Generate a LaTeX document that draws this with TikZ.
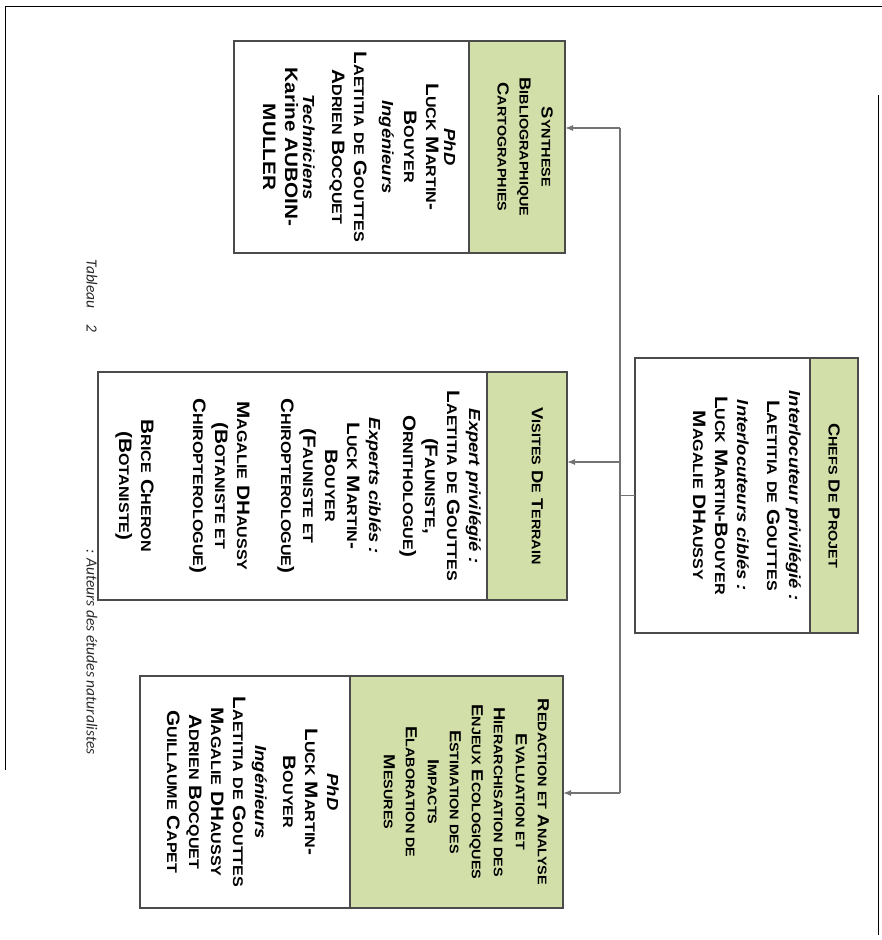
\documentclass[tikz,border=0pt]{standalone}
\usepackage{fontspec}
\setmainfont{Liberation Sans}[FakeStretch=1.15]
\newfontfamily\capfont{Carlito}
\usetikzlibrary{arrows.meta}

\definecolor{headgreen}{RGB}{210,223,168}
\definecolor{boxgray}{RGB}{75,75,75}
\definecolor{linegray}{RGB}{115,115,115}
\definecolor{capgray}{RGB}{40,40,40}

% small capitals, done by hand
\newcommand\smb[1]{{\fontsize{14}{22}\selectfont #1}}
\newcommand\smh[1]{{\fontsize{12.5}{22}\selectfont #1}}
\newcommand\lab[1]{{\itshape\fontsize{16}{22}\selectfont #1}}

\tikzset{
  bodybox/.style={draw=boxgray, fill=white, line width=1.3pt, rotate=-90, inner sep=0pt, outer sep=0pt},
  headbox/.style={bodybox, fill=headgreen},
  bodytext/.style={rotate=-90, anchor=north, align=center, inner sep=0pt, font=\bfseries\fontsize{18}{22}\selectfont},
  headtext/.style={bodytext, font=\bfseries\fontsize{16}{22}\selectfont},
  link/.style={draw=linegray, line width=1.3pt},
  arr/.style={link, -{Latex[length=8pt,width=6pt]}},
  pageframe/.style={draw=black, line width=0.8pt},
  captext/.style={rotate=-90, font=\capfont\itshape\fontsize{15.5}{18}\selectfont, text=capgray}
}

\begin{document}
\begin{tikzpicture}[x=1pt, y=1pt]
  \useasboundingbox (0,0) rectangle (882,-940);

  % page border
  \draw[pageframe] (5,-6) -- (882,-6);
  \draw[pageframe] (5,-6) -- (5,-770);
  \draw[pageframe] (878,-95) -- (878,-935);

  % Boxes
  \node[bodybox, minimum width=212pt, minimum height=235pt] (synB) at (351.5,-147) {};
  \node[headbox, minimum width=212pt, minimum height=96pt] (synH) at (517,-147) {};

  \node[bodybox, minimum width=228pt, minimum height=389pt] (visB) at (292.5,-486) {};
  \node[headbox, minimum width=228pt, minimum height=80pt] (visH) at (527,-486) {};

  \node[bodybox, minimum width=275pt, minimum height=175pt] (chefsB) at (722.5,-495.5) {};
  \node[headbox, minimum width=275pt, minimum height=48pt] (chefsH) at (834,-495.5) {};

  \node[bodybox, minimum width=232pt, minimum height=210pt] (redB) at (245,-792) {};
  \node[headbox, minimum width=232pt, minimum height=213pt] (redH) at (456.5,-792) {};

  % Headers
  \node[headtext] (synHT) at ([xshift=-12pt]synH.north)
    {S\smh{YNTHESE}\\B\smh{IBLIOGRAPHIQUE}\\C\smh{ARTOGRAPHIES}};
  \node[headtext] (visHT) at ([xshift=-24pt]visH.north)
    {V\smh{ISITES} D\smh{E} T\smh{ERRAIN}};
  \node[headtext] (chefsHT) at ([xshift=-18pt]chefsH.north)
    {C\smh{HEFS} D\smh{E} P\smh{ROJET}};
  \node[headtext] (redHT) at ([xshift=-14pt]redH.north)
    {R\smh{EDACTION ET} A\smh{NALYSE}\\
     E\smh{VALUATION ET}\\
     H\smh{IERARCHISATION DES}\\
     E\smh{NJEUX} E\smh{COLOGIQUES}\\
     E\smh{STIMATION DES}\\
     I\smh{MPACTS}\\
     E\smh{LABORATION DE}\\
     M\smh{ESURES}};

  % Members
  \node[bodytext] (synT) at ([xshift=-13pt]synB.north)
    {\lab{PhD}\\[-4pt]
     L\smb{UCK} M\smb{ARTIN}-\\
     B\smb{OUYER}\\
     \lab{Ingénieurs}\\[6pt]
     L\smb{AETITIA} \smb{DE} G\smb{OUTTES}\\
     A\smb{DRIEN} B\smb{OCQUET}\\[7pt]
     \lab{Techniciens}\\[-4pt]
     Karine AUBOIN-\\
     MULLER};
  \node[bodytext] (visT) at ([xshift=-6pt]visB.north)
    {\lab{Expert privilégié :}\\
     L\smb{AETITIA} \smb{DE} G\smb{OUTTES}\\
     (F\smb{AUNISTE},\\
     O\smb{RNITHOLOGUE})\\[12pt]
     \lab{Experts ciblés :}\\
     L\smb{UCK} M\smb{ARTIN}-\\
     B\smb{OUYER}\\
     (F\smb{AUNISTE ET}\\
     C\smb{HIROPTEROLOGUE})\\[22pt]
     M\smb{AGALIE} DH\smb{AUSSY}\\
     (B\smb{OTANISTE ET}\\
     C\smb{HIROPTEROLOGUE})\\[30pt]
     B\smb{RICE} C\smb{HERON}\\
     (B\smb{OTANISTE})};
  \node[bodytext] (chefsT) at ([xshift=-9pt]chefsB.north)
    {\lab{Interlocuteur privilégié :}\\
     L\smb{AETITIA} \smb{DE} G\smb{OUTTES}\\[8pt]
     \lab{Interlocuteurs ciblés :}\\
     L\smb{UCK} M\smb{ARTIN}-B\smb{OUYER}\\
     M\smb{AGALIE} DH\smb{AUSSY}};
  \node[bodytext] (redT) at ([xshift=-11pt]redB.north)
    {\lab{PhD}\\
     L\smb{UCK} M\smb{ARTIN}-\\
     B\smb{OUYER}\\[6pt]
     \lab{Ingénieurs}\\
     L\smb{AETITIA} \smb{DE} G\smb{OUTTES}\\
     M\smb{AGALIE} DH\smb{AUSSY}\\
     A\smb{DRIEN} B\smb{OCQUET}\\
     G\smb{UILLAUME} C\smb{APET}};

  % Caption
  \node[captext] (tabCap) at (92,-296) {Tableau\quad 2};
  \node[captext] (autCap) at (92,-652) {: Auteurs des études naturalistes};

  % Links
  \coordinate (busTop) at (620,-128);
  \coordinate (busMid) at (620,-462);
  \coordinate (busBot) at (620,-793);
  \draw[link] (busTop) -- (busBot);
  \draw[link] (chefsB.south) -- (chefsB.south -| busTop);
  \draw[arr] (busTop) -- (busTop -| synH.north);
  \draw[arr] (busMid) -- (busMid -| visH.north);
  \draw[arr] (busBot) -- (busBot -| redH.north);
\end{tikzpicture}
\end{document}
